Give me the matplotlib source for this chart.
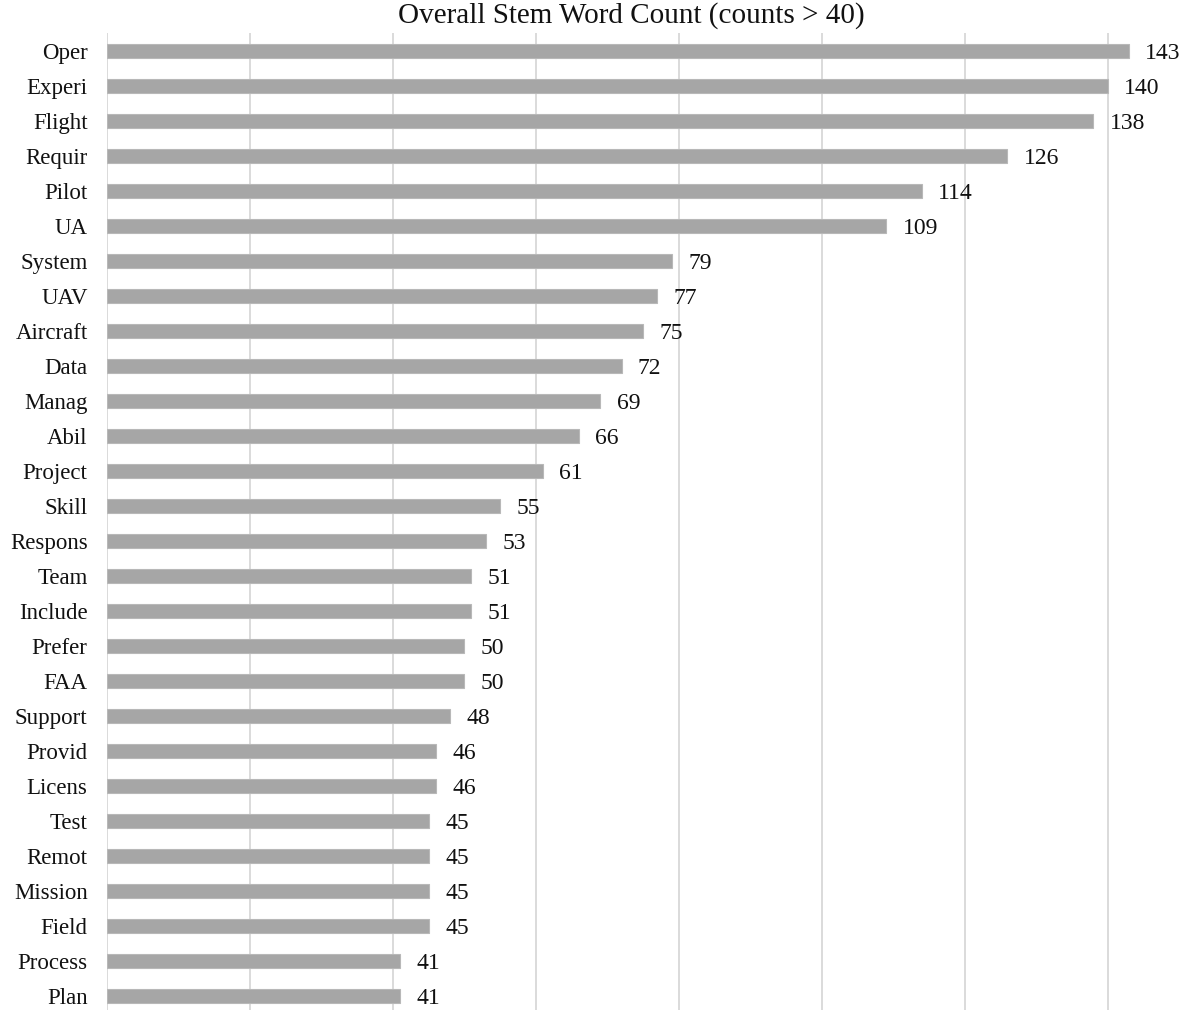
import matplotlib
matplotlib.use("Agg")
import matplotlib.pyplot as plt

categories = ["Oper", "Experi", "Flight", "Requir", "Pilot", "UA", "System", "UAV",
              "Aircraft", "Data", "Manag", "Abil", "Project", "Skill", "Respons", "Team",
              "Include", "Prefer", "FAA", "Support", "Provid", "Licens", "Test", "Remot",
              "Mission", "Field", "Process", "Plan"]
counts = [143, 140, 138, 126, 114, 109, 79, 77, 75, 72, 69, 66, 61, 55, 53, 51,
          51, 50, 50, 48, 46, 46, 45, 45, 45, 45, 41, 41]
title = "Overall Stem Word Count (counts > 40)"

plt.rcParams['font.family'] = ['Liberation Serif', 'DejaVu Serif']

W, H = 1186, 1010
fig = plt.figure(figsize=(W / 100, H / 100), dpi=100)
left_px, right_px, top_px, bottom_px = 107, 1179, 33, 1010
ax = fig.add_axes([left_px / W, 1 - bottom_px / H, (right_px - left_px) / W, (bottom_px - top_px) / H])

y = list(range(len(categories)))
ax.barh(y, counts, height=0.4, color='#a6a6a6', edgecolor='#b8b8b8', linewidth=0.8, zorder=3)
for yi, v in zip(y, counts):
    ax.text(v + 2.3, yi + 0.08, str(v), va='center', ha='left', fontsize=17, color='#111111')

ax.set_xlim(0, 150)
ax.set_ylim(27.4, -0.514)
ax.set_yticks(y)
ax.set_yticklabels(categories, fontsize=16.5, color='#111111')
ax.tick_params(axis='y', length=0, pad=14)
ax.set_xticks(range(0, 141, 20))
ax.tick_params(axis='x', length=0, labelbottom=False)
ax.grid(axis='x', color='#dadada', linewidth=1.4, zorder=0)
for s in ax.spines.values():
    s.set_visible(False)

fig.text(631 / W, 1 - 16 / H, title, ha='center', va='center', fontsize=21, color='#111111')

fig.savefig("out.png", dpi=100)
